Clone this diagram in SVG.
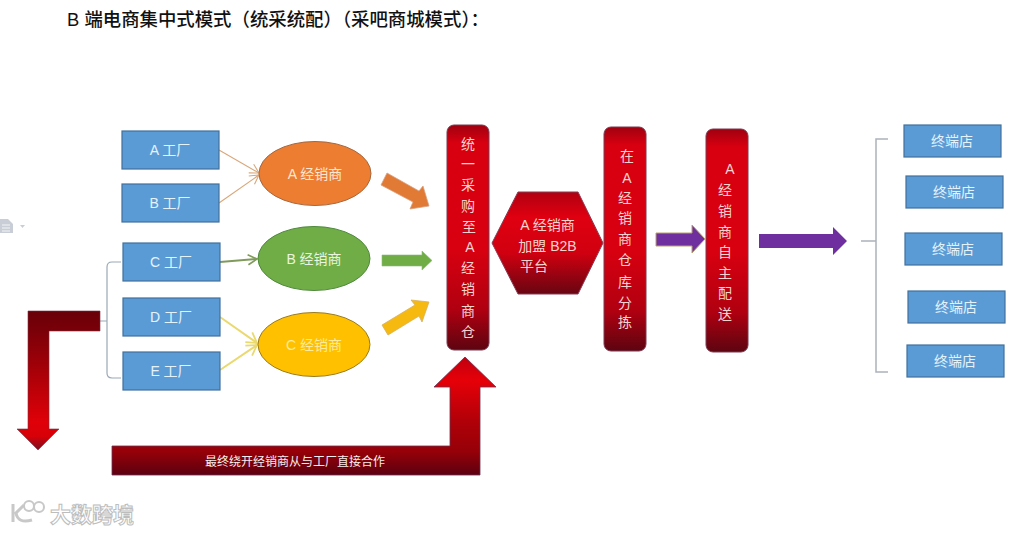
<svg xmlns="http://www.w3.org/2000/svg" width="1032" height="533" viewBox="0 0 1032 533">
<style>
text{font-family:"Liberation Sans","Noto Sans CJK SC",sans-serif;font-size:14px;text-anchor:middle}
.box{fill:#5b9bd5;stroke:#41719c;stroke-width:1.2}
.bt{fill:#e4f3fb}
.ot{fill:#fbe6d2}
.yt{fill:#fdeb9c}
.gt{fill:#e9f5e0}
.pt{fill:#f7d4d0}
.pill{fill:url(#pillar);stroke:#7b3a50;stroke-width:1}
.thin{fill:none;stroke-linejoin:round}
.br{fill:none;stroke:#9aa8b5;stroke-width:1.2}
</style>
<defs>
<linearGradient id="pillar" x1="0" y1="0" x2="0" y2="1">
<stop offset="0" stop-color="#a00010"/><stop offset=".08" stop-color="#d80010"/><stop offset=".55" stop-color="#d80010"/><stop offset=".82" stop-color="#b00010"/><stop offset="1" stop-color="#5c0510"/>
</linearGradient>
<linearGradient id="hex" x1="0" y1="0" x2="0" y2="1">
<stop offset="0" stop-color="#b00012"/><stop offset=".25" stop-color="#e00010"/><stop offset=".6" stop-color="#d00010"/><stop offset="1" stop-color="#680512"/>
</linearGradient>
<linearGradient id="lg" gradientUnits="userSpaceOnUse" x1="0" y1="311" x2="0" y2="450">
<stop offset="0" stop-color="#680008"/><stop offset=".15" stop-color="#7c0008"/><stop offset=".8" stop-color="#e00008"/><stop offset=".9" stop-color="#d80008"/><stop offset="1" stop-color="#7a1020"/>
</linearGradient>
<linearGradient id="ug" gradientUnits="userSpaceOnUse" x1="0" y1="357" x2="0" y2="475">
<stop offset="0" stop-color="#c00010"/><stop offset=".2" stop-color="#e60008"/><stop offset=".55" stop-color="#b00008"/><stop offset=".8" stop-color="#960008"/><stop offset="1" stop-color="#5c0010"/>
</linearGradient>
<marker id="mt" markerWidth="14" markerHeight="14" refX="12" refY="7" orient="auto" markerUnits="userSpaceOnUse"><path d="M3 2 12 7 3 12" fill="none" stroke="#d9a77a" stroke-width="1.1"/></marker>
<marker id="mg" markerWidth="14" markerHeight="14" refX="12" refY="7" orient="auto" markerUnits="userSpaceOnUse"><path d="M3 2 12 7 3 12" fill="none" stroke="#7f9a5a" stroke-width="1.6"/></marker>
<marker id="my" markerWidth="16" markerHeight="16" refX="14" refY="8" orient="auto" markerUnits="userSpaceOnUse"><path d="M4 2 14 8 4 14" fill="none" stroke="#e9d96e" stroke-width="1.8"/></marker>
</defs>
<rect width="1032" height="533" fill="#fff"/>
<text x="67" y="26" style="font-size:18.400px;font-weight:500;fill:#111;text-anchor:start">B 端电商集中式模式（统采统配）（采吧商城模式）：</text>

<g id="connectors">
<path class="thin" d="M219 150 259 173" stroke="#d9a77a" stroke-width="1.1" marker-end="url(#mt)"/>
<path class="thin" d="M219 203 259 175" stroke="#d9a77a" stroke-width="1.1" marker-end="url(#mt)"/>
<path class="thin" d="M220 262 257 259" stroke="#7f9a5a" stroke-width="2" marker-end="url(#mg)"/>
<path class="thin" d="M220 317 257 343" stroke="#e9d96e" stroke-width="2" marker-end="url(#my)"/>
<path class="thin" d="M220 370 257 345" stroke="#e9d96e" stroke-width="2" marker-end="url(#my)"/>
<path class="br" d="M121 262H112Q107 262 107 267V373Q107 378 112 378H121M107 321H100"/>
<path class="br" style="stroke:#aab2ba;stroke-width:1.500" d="M888 139H876V372H888M861 241H876"/>
<path d="M387 173 419 191 423 186 429 206 410 209 413 202 381 185Z" fill="#e07a35" stroke="#d9a080" stroke-width=".8"/>
<path d="M382 255H422V251L432 260.500 422 270V266H382Z" fill="#70ad47" stroke="#8fb878" stroke-width=".6"/>
<path d="M382 325 415 305 411 300 429 302 422 322 419 316 388 335Z" fill="#f5b90f" stroke="#d8b060" stroke-width=".8"/>
<path d="M656 233H692V225L705 239 692 253V246H656Z" fill="#6f2f9f" stroke="#b8a070" stroke-width="1"/>
<path d="M759 234H833V227L847 241 833 255V248H759Z" fill="#6f2f9f"/>
<path d="M28 311H100V331H49V429H59L38 450 17 429H28Z" fill="url(#lg)" stroke="#7c3040" stroke-width=".6"/>
<path d="M112 446H450V387H434L465 357 496 387H480V475H112Z" fill="url(#ug)" stroke="#6a3050" stroke-width=".8"/>
</g>
<text x="295" y="466" style="font-size:12px;fill:#f6eeee">最终绕开经销商从与工厂直接合作</text>

<g id="factory-a"><rect class="box" x="122" y="131" width="97" height="38"/><text class="bt" x="170" y="155">A 工厂</text></g>
<g id="factory-b"><rect class="box" x="122" y="184" width="97" height="38"/><text class="bt" x="170" y="208">B 工厂</text></g>
<g id="factory-c"><rect class="box" x="123" y="243" width="97" height="38"/><text class="bt" x="171" y="267">C 工厂</text></g>
<g id="factory-d"><rect class="box" x="123" y="298" width="97" height="38"/><text class="bt" x="171" y="322">D 工厂</text></g>
<g id="factory-e"><rect class="box" x="123" y="352" width="97" height="38"/><text class="bt" x="171" y="376">E 工厂</text></g>

<g id="dealer-a"><ellipse cx="315" cy="173.500" rx="56" ry="32" fill="#ed7d31" stroke="#a5673f" stroke-width="1"/><text class="ot" x="315" y="179">A 经销商</text></g>
<g id="dealer-b"><ellipse cx="314" cy="258.500" rx="56" ry="32" fill="#70ad47" stroke="#4f8a3c" stroke-width="1"/><text class="gt" x="314" y="264">B 经销商</text></g>
<g id="dealer-c"><ellipse cx="314" cy="344.500" rx="56" ry="32" fill="#ffc000" stroke="#9a7c20" stroke-width="1"/><text class="yt" x="314" y="350">C 经销商</text></g>

<g id="purchase"><rect class="pill" x="447" y="125" width="42" height="225" rx="7"/>
<g class="pt"><text x="468" y="149">统</text><text x="468" y="169">一</text><text x="468" y="190">采</text><text x="468" y="211">购</text><text x="469" y="232">至</text><text x="470" y="252">A</text><text x="468" y="273">经</text><text x="468" y="294">销</text><text x="468" y="316">商</text><text x="468" y="337">仓</text></g></g>

<g id="platform"><path d="M492 243 518 192H578L603 243 578 294H518Z" fill="url(#hex)" stroke="#8a3a50" stroke-width="1"/>
<g class="pt"><text x="547.500" y="230">A 经销商</text><text x="547.500" y="251">加盟 B2B</text><text x="534" y="271">平台</text></g></g>

<g id="sorting"><rect class="pill" x="604" y="127" width="42" height="224" rx="7"/>
<g class="pt"><text x="627" y="161">在</text><text x="627" y="183">A</text><text x="625" y="203">经</text><text x="625" y="223">销</text><text x="625" y="244">商</text><text x="625" y="265">仓</text><text x="625" y="287">库</text><text x="625" y="308">分</text><text x="625" y="327">拣</text></g></g>

<g id="delivery"><rect class="pill" x="706" y="129" width="42" height="223" rx="7"/>
<g class="pt"><text x="730" y="174">A</text><text x="725" y="195">经</text><text x="725" y="216">销</text><text x="725" y="237">商</text><text x="725" y="257">自</text><text x="725" y="278">主</text><text x="725" y="298">配</text><text x="725" y="319">送</text></g></g>

<g id="store-1"><rect class="box" x="904" y="125" width="97" height="32"/><text class="bt" x="952" y="146">终端店</text></g>
<g id="store-2"><rect class="box" x="906" y="176" width="97" height="32"/><text class="bt" x="954" y="197">终端店</text></g>
<g id="store-3"><rect class="box" x="905" y="233" width="97" height="32"/><text class="bt" x="953" y="254">终端店</text></g>
<g id="store-4"><rect class="box" x="908" y="291" width="97" height="32"/><text class="bt" x="956" y="312">终端店</text></g>
<g id="store-5"><rect class="box" x="907" y="345" width="97" height="32"/><text class="bt" x="955" y="366">终端店</text></g>

<path d="M0 219H8L13 224V233H0Z" fill="#c9ced6"/><path d="M2 225H10M2 228H10M2 231H10" stroke="#fff" stroke-width=".8"/><path d="M20 225H25L22.500 228Z" fill="#c9ced6"/>

<g id="watermark">
<path d="M13 504V522M24 505 16 513Q18 524 32 520" fill="none" stroke="#c8c8c8" stroke-width="3"/>
<circle cx="29" cy="506" r="5" fill="none" stroke="#c8c8c8" stroke-width="2"/><circle cx="39" cy="507" r="5" fill="none" stroke="#c8c8c8" stroke-width="2"/>
<text x="92" y="522" style="font-size:21px;font-weight:700;fill:#fff;stroke:#bdbdbd;stroke-width:1">大数跨境</text>
</g>
</svg>
